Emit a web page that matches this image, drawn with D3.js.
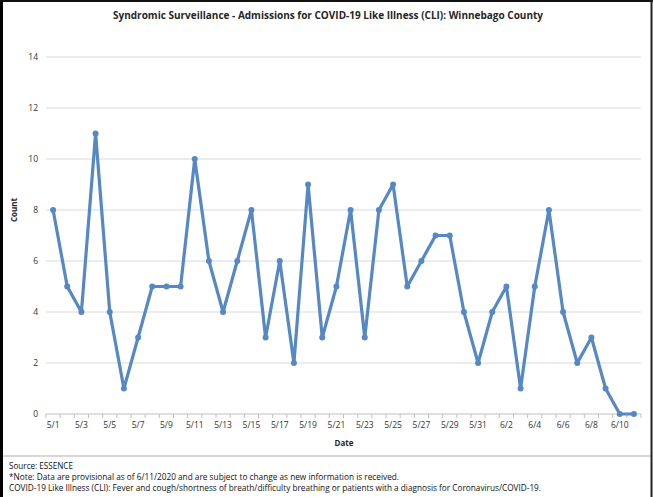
<!DOCTYPE html>
<html>
<head>
<meta charset="utf-8">
<script src="https://cdn.jsdelivr.net/npm/d3@7"></script>
<style>
  html, body { margin: 0; padding: 0; background: #ffffff; }
  svg { display: block; }
</style>
</head>
<body>
<svg id="chart" width="653" height="497"></svg>
<script>
const dates = ["5/1","5/2","5/3","5/4","5/5","5/6","5/7","5/8","5/9","5/10",
  "5/11","5/12","5/13","5/14","5/15","5/16","5/17","5/18","5/19","5/20",
  "5/21","5/22","5/23","5/24","5/25","5/26","5/27","5/28","5/29","5/30",
  "5/31","6/1","6/2","6/3","6/4","6/5","6/6","6/7","6/8","6/9","6/10","6/11"];
const counts = [8,5,4,11,4,1,3,5,5,5,
  10,6,4,6,8,3,6,2,9,3,
  5,8,3,8,9,5,6,7,7,4,
  2,4,5,1,5,8,4,2,3,1,0,0];
const yTicks = [0,2,4,6,8,10,12,14];
const xLabels = dates.filter((d, i) => i % 2 === 0 && i < 41);

const title = "Syndromic Surveillance - Admissions for COVID-19 Like Illness (CLI): Winnebago County";
const footer = [
  "Source: ESSENCE",
  "*Note: Data are provisional as of 6/11/2020 and are subject to change as new information is received.",
  "COVID-19 Like Illness (CLI): Fever and cough/shortness of breath/difficulty breathing or patients with a diagnosis for Coronavirus/COVID-19."
];

const FONT = "'Open Sans', 'Noto Sans', sans-serif";
const svg = d3.select("#chart");
const W = 653, H = 497;
const lineColor = "#5588c4";

svg.append("rect").attr("width", W).attr("height", H).attr("fill", "#fff");

const x = d3.scaleBand().domain(dates).range([46, 641]).padding(0);
const y = d3.scaleLinear().domain([0, 14]).range([414, 57]);
const cx = d => x(d) + x.bandwidth() / 2;

// gridlines
svg.append("g").selectAll("line").data(yTicks.filter(t => t > 0)).join("line")
  .attr("x1", 46).attr("x2", 641)
  .attr("y1", d => y(d)).attr("y2", d => y(d))
  .attr("stroke", "#d9d9d9").attr("stroke-width", 1);

// y axis labels
const yAxis = d3.axisLeft(y).tickValues(yTicks).tickSize(0).tickPadding(0).tickFormat(d3.format("d"));
const gy = svg.append("g").attr("transform", "translate(38,0)").call(yAxis);
gy.select(".domain").remove();
gy.selectAll("text").attr("font-family", FONT).attr("font-size", 8.5).attr("fill", "#333");

// x axis line and boundary ticks
svg.append("line").attr("x1", 46).attr("x2", 641).attr("y1", y(0)).attr("y2", y(0))
  .attr("stroke", "#bfbfbf").attr("stroke-width", 1);
const bounds = dates.map(d => x(d)).concat([x(dates[dates.length - 1]) + x.bandwidth()]);
svg.append("g").selectAll("line").data(bounds).join("line")
  .attr("x1", d => d).attr("x2", d => d)
  .attr("y1", y(0)).attr("y2", y(0) + 4)
  .attr("stroke", "#bfbfbf").attr("stroke-width", 1);

const xAxis = d3.axisBottom(x).tickValues(xLabels).tickSize(0).tickPadding(0);
const gx = svg.append("g").attr("transform", `translate(0,${y(0) + 8})`).call(xAxis);
gx.select(".domain").remove();
gx.selectAll("text").attr("font-family", FONT).attr("font-size", 8.5).attr("fill", "#333");

// line
const line = d3.line().x((d, i) => cx(dates[i])).y(d => y(d));
svg.append("path").datum(counts).attr("d", line)
  .attr("fill", "none").attr("stroke", lineColor).attr("stroke-width", 3.2)
  .attr("stroke-linejoin", "round");
svg.append("g").selectAll("circle").data(counts).join("circle")
  .attr("cx", (d, i) => cx(dates[i])).attr("cy", d => y(d)).attr("r", 3)
  .attr("fill", lineColor);

// title
svg.append("text").attr("x", 328).attr("y", 19).attr("text-anchor", "middle")
  .attr("font-family", FONT).attr("font-weight", "bold").attr("font-size", 10.5)
  .attr("fill", "#262626").attr("textLength", 430).attr("lengthAdjust", "spacingAndGlyphs")
  .text(title);

// axis titles
svg.append("text").attr("transform", "translate(17,210) rotate(-90)").attr("text-anchor", "middle")
  .attr("font-family", FONT).attr("font-weight", "bold").attr("font-size", 8).attr("fill", "#262626")
  .text("Count");
svg.append("text").attr("x", 344).attr("y", 446).attr("text-anchor", "middle")
  .attr("font-family", FONT).attr("font-weight", "bold").attr("font-size", 8).attr("fill", "#262626")
  .text("Date");

// separator
svg.append("line").attr("x1", 3).attr("x2", 651).attr("y1", 456).attr("y2", 456)
  .attr("stroke", "#b0b0b0").attr("stroke-width", 1);

// footer
const footLen = [64, 390, 532];
const footY = [469, 480, 491];
svg.append("g").selectAll("text").data(footer).join("text")
  .attr("x", 9).attr("y", (d, i) => footY[i])
  .attr("font-family", FONT).attr("font-size", 8.5).attr("fill", "#111")
  .attr("textLength", (d, i) => footLen[i]).attr("lengthAdjust", "spacingAndGlyphs")
  .text(d => d);

// frame
svg.append("line").attr("x1", 1.5).attr("x2", 1.5).attr("y1", 0).attr("y2", H).attr("stroke", "#000").attr("stroke-width", 3);
svg.append("line").attr("x1", 0).attr("x2", W).attr("y1", 1).attr("y2", 1).attr("stroke", "#111").attr("stroke-width", 2);
svg.append("line").attr("x1", 651.5).attr("x2", 651.5).attr("y1", 0).attr("y2", H).attr("stroke", "#222").attr("stroke-width", 2);
</script>
</body>
</html>
